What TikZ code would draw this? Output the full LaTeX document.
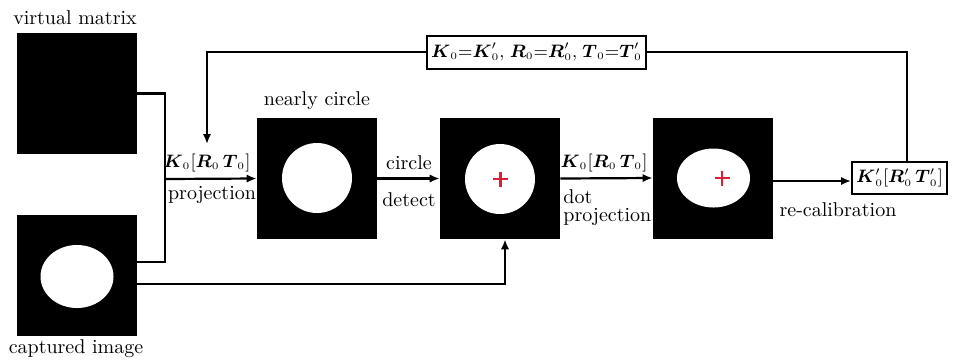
\documentclass[tikz,border=0pt]{standalone}
\usepackage{amsmath, amssymb}
\usepackage{tikz}
\usetikzlibrary{positioning,arrows.meta,shapes.geometric,shapes.misc}
\definecolor{markred}{RGB}{222,30,52}
\tikzset{
  flowarrow/.style={-{Latex[length=5pt,width=4.2pt]}, line width=1.1pt},
  flowline/.style={line width=1.1pt},
  imgbox/.style={fill=black, minimum width=60pt, minimum height=60.5pt, inner sep=0pt},
  hole/.style={ellipse, fill=white, inner sep=0pt},
  parbox/.style={draw, line width=1pt, fill=white, inner sep=2pt, align=center, font=\small},
  relabel/.style={font=\normalsize, inner sep=1pt},
  mathlabel/.style={font=\small, inner sep=1pt},
  centermark/.style={cross out, draw=markred, line width=1.4pt, rotate=45, minimum size=3.9pt, inner sep=0pt}
}
\newcommand{\bK}{\boldsymbol{K}}
\newcommand{\bR}{\boldsymbol{R}}
\newcommand{\bT}{\boldsymbol{T}}
\newcommand{\zsub}{_{\scriptscriptstyle 0}}

\begin{document}
\begin{tikzpicture}[x=0.5pt, y=-0.5pt, >=Latex]
  \useasboundingbox (0,0) rectangle (958,361);
  \node[imgbox] (vm) at (77,93.5) {};
  \node[imgbox] (ci) at (77,275.5) {};
  \node[imgbox] (nc) at (317,178.5) {};
  \node[imgbox] (cd) at (500,178.5) {};
  \node[imgbox] (dp) at (713,178) {};
  \node[hole, minimum width=36.5pt, minimum height=31.5pt] (ciell) at (77,276.5) {};
  \node[hole, minimum width=35pt, minimum height=35pt] (nccirc) at (317,178) {};
  \node[hole, minimum width=35pt, minimum height=35pt] (cdcirc) at (500,179) {};
  \node[hole, minimum width=36.5pt, minimum height=29.5pt] (dpell) at (713.5,178) {};
  \node[centermark] (cdmark) at (500.5,179) {};
  \node[centermark] (dpmark) at (722,178) {};
  \node[relabel] (vmlab) at (75,18) {virtual matrix};
  \node[relabel] (cilab) at (76,349) {captured image};
  \node[relabel] (nclab) at (317,101) {nearly circle};
  \node[parbox, minimum width=108.5pt, minimum height=16.5pt] (eq) at (536.5,52)
    {$\bK\zsub{=}\bK'\zsub{,}\;\bR\zsub{=}\bR'\zsub{,}\;\bT\zsub{=}\bT'\zsub$};
  \node[parbox, minimum width=47.5pt, minimum height=16pt] (kb) at (899.5,178)
    {$\bK'\zsub[\bR'\zsub\,\bT'\zsub]$};
  \coordinate (j1) at (165,93.5);
  \coordinate (j2) at (165,262);
  \coordinate (j3) at (165,179);
  \coordinate (fb) at (207,52);
  \coordinate (fbend) at (207,144);
  \coordinate (cibot) at (137,284);
  \coordinate (kbtop) at (907,162);
  \draw[flowline] (vm.east |- j1) -- (j1) -- (j2) -- (ci.east |- j2);
  \draw[flowarrow] (j3) -- (nc.west);
  \draw[flowarrow] (eq.west) -- (fb) -- (fbend);
  \draw[flowarrow] (nc.east) -- (cd.west);
  \draw[flowarrow] (cibot) -| ([xshift=2.5pt]cd.south);
  \draw[flowarrow] (cd.east) -- (dp.west);
  \draw[flowarrow] (dp.east |- 0,181) -- (kb.west |- 0,181);
  \draw[flowline] (kbtop) |- (eq.east);
  \node[mathlabel] (l1) at (207,163) {$\bK\zsub[\bR\zsub\,\bT\zsub]$};
  \node[relabel] (l2) at (212,195) {projection};
  \node[relabel] (l3) at (409,163) {circle};
  \node[relabel] (l4) at (409,200) {detect};
  \node[mathlabel] (l5) at (604,163) {$\bK\zsub[\bR\zsub\,\bT\zsub]$};
  \node[relabel, anchor=north west, align=left] (l6) at (561,187) {dot\\[-3pt]projection};
  \node[relabel] (l7) at (838,210) {re-calibration};
\end{tikzpicture}
\end{document}
